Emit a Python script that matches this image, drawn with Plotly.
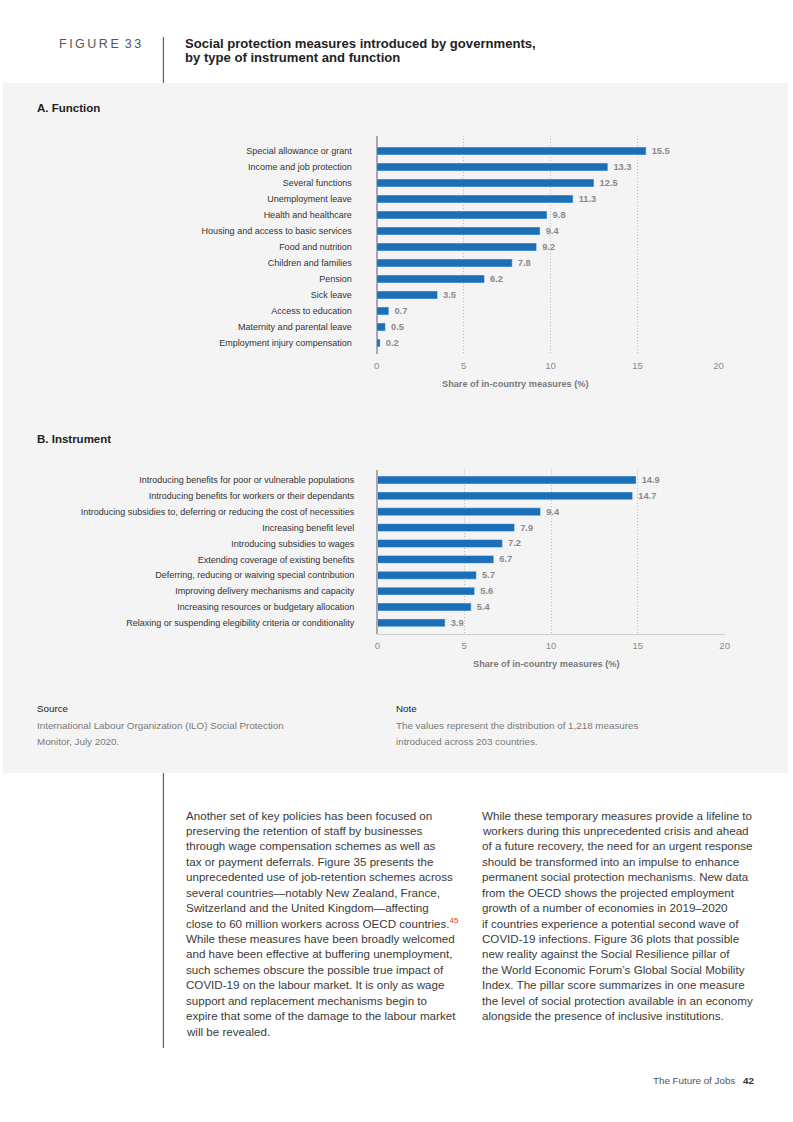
import plotly.graph_objects as go

# ---------------- data ----------------
function_categories = [
    "Special allowance or grant", "Income and job protection", "Several functions",
    "Unemployment leave", "Health and healthcare", "Housing and access to basic services",
    "Food and nutrition", "Children and families", "Pension", "Sick leave",
    "Access to education", "Maternity and parental leave", "Employment injury compensation",
]
function_values = [15.5, 13.3, 12.5, 11.3, 9.8, 9.4, 9.2, 7.8, 6.2, 3.5, 0.7, 0.5, 0.2]

instrument_categories = [
    "Introducing benefits for poor or vulnerable populations",
    "Introducing benefits for workers or their dependants",
    "Introducing subsidies to, deferring or reducing the cost of necessities",
    "Increasing benefit level",
    "Introducing subsidies to wages",
    "Extending coverage of existing benefits",
    "Deferring, reducing or waiving special contribution",
    "Improving delivery mechanisms and capacity",
    "Increasing resources or budgetary allocation",
    "Relaxing or suspending elegibility criteria or conditionality",
]
instrument_values = [14.9, 14.7, 9.4, 7.9, 7.2, 6.7, 5.7, 5.6, 5.4, 3.9]

x_ticks = [0, 5, 10, 15, 20]

# ---------------- helpers ----------------
W, H = 793, 1122
FONT = "Liberation Sans"
BLUE = "#1b6fb9"


def px(x):
    return x / W


def py(y):
    return 1 - y / H


fig = go.Figure()

fig.add_trace(go.Bar(
    x=function_values, y=list(range(len(function_categories))), orientation="h",
    marker_color=BLUE, width=0.5,
    text=[f"\u00a0{v:.1f}" for v in function_values], textposition="outside",
    textfont=dict(family=FONT, size=9.3, color="#8a8a8a", weight="bold"),
    cliponaxis=False, constraintext="none", xaxis="x", yaxis="y", showlegend=False,
))
fig.add_trace(go.Bar(
    x=instrument_values, y=list(range(len(instrument_categories))), orientation="h",
    marker_color=BLUE, width=0.5,
    text=[f"\u00a0{v:.1f}" for v in instrument_values], textposition="outside",
    textfont=dict(family=FONT, size=9.3, color="#8a8a8a", weight="bold"),
    cliponaxis=False, constraintext="none", xaxis="x2", yaxis="y2", showlegend=False,
))

xcommon = dict(
    showgrid=True, gridcolor="#bdbdbd", griddash="1px,2px", gridwidth=1,
    zeroline=True, zerolinecolor="#a8a8a8", zerolinewidth=1.5,
    ticks="outside", ticklen=3, tickcolor="rgba(0,0,0,0)",
    tickfont=dict(family=FONT, size=9.5, color="#8a8a8a"),
    fixedrange=True,
)
ycommon = dict(
    showgrid=False, zeroline=False, ticks="",
    tickfont=dict(family=FONT, size=9, color="#333333"),
    fixedrange=True,
)

# Chart A: the reference's right-hand gridline sits slightly inside 20
fig.update_layout(
    xaxis=dict(**xcommon, domain=[px(377.5), px(722.7)], range=[0, 19.66],
               tickvals=[0, 5, 10, 15, 19.66], ticktext=[str(t) for t in x_ticks],
               anchor="y"),
    yaxis=dict(**ycommon, domain=[py(354), py(136)], range=[12.69, -0.94],
               tickvals=list(range(len(function_categories))), ticktext=function_categories,
               ticklabelstandoff=24, anchor="x"),
    xaxis2=dict(**xcommon, domain=[px(378.2), px(729)], range=[0, 20],
                tickvals=x_ticks, ticktext=[str(t) for t in x_ticks],
                showline=True, linecolor="#cfcfcf", linewidth=1, anchor="y2"),
    yaxis2=dict(**ycommon, domain=[py(633.5), py(470)], range=[9.67, -0.63],
                tickvals=list(range(len(instrument_categories))), ticktext=instrument_categories,
                ticklabelstandoff=22, anchor="x2"),
)

shapes = [
    dict(type="rect", xref="paper", yref="paper", x0=0, x1=1, y0=py(773), y1=py(83),
         fillcolor="#f4f4f4", line_width=0, layer="below"),
    dict(type="line", xref="paper", yref="paper", x0=px(162), x1=px(162), y0=py(37), y1=py(83),
         line=dict(color="#444444", width=1)),
    dict(type="line", xref="paper", yref="paper", x0=px(162), x1=px(162), y0=py(773), y1=py(1048),
         line=dict(color="#444444", width=1)),
]

annotations = []


def txt(x, y, s, size=9, color="#333333", bold=False, anchor="left"):
    annotations.append(dict(
        xref="paper", yref="paper", x=px(x), y=py(y), text=s, showarrow=False,
        xanchor=anchor, yanchor="middle", align=anchor, borderpad=0, borderwidth=0,
        font=dict(family=FONT, size=size, color=color, weight="bold" if bold else "normal"),
    ))


# header
txt(57, 44, "\u2009".join("FIGURE") + "\u2009 " + "\u2009".join("33"), size=12.5, color="#555555")
txt(184, 43, "Social protection measures introduced by governments,", size=13.1, color="#222222", bold=True)
txt(184, 57.5, "by type of instrument and function", size=13.1, color="#222222", bold=True)

# section titles
txt(34, 108, "A. Function", size=11.5, color="#222222", bold=True)
txt(34, 439, "B. Instrument", size=11.5, color="#222222", bold=True)

# axis titles
txt(518, 384, "Share of in-country measures (%)", size=9.2, color="#7a7a7a", bold=True, anchor="center")
txt(549, 664, "Share of in-country measures (%)", size=9.2, color="#7a7a7a", bold=True, anchor="center")

# source / note
txt(34, 708, "Source", size=9.8, color="#222222")
txt(34, 725, "International Labour Organization (ILO) Social Protection", size=9.8, color="#7a7a7a")
txt(34, 741, "Monitor, July 2020.", size=9.8, color="#7a7a7a")
txt(397, 708, "Note", size=9.8, color="#222222")
txt(397, 725, "The values represent the distribution of 1,218 measures", size=9.8, color="#7a7a7a")
txt(397, 741, "introduced across 203 countries.", size=9.8, color="#7a7a7a")

col1 = [
    "Another set of key policies has been focused on",
    "preserving the retention of staff by businesses",
    "through wage compensation schemes as well as",
    "tax or payment deferrals. Figure 35 presents the",
    "unprecedented use of job-retention schemes across",
    "several countries\u2014notably New Zealand, France,",
    "Switzerland and the United Kingdom\u2014affecting",
    "close to 60 million workers across OECD countries.<sup><span style='color:#e2402a'>45</span></sup>",
    "While these measures have been broadly welcomed",
    "and have been effective at buffering unemployment,",
    "such schemes obscure the possible true impact of",
    "COVID-19 on the labour market. It is only as wage",
    "support and replacement mechanisms begin to",
    "expire that some of the damage to the labour market",
    "will be revealed.",
]
col2 = [
    "While these temporary measures provide a lifeline to",
    "workers during this unprecedented crisis and ahead",
    "of a future recovery, the need for an urgent response",
    "should be transformed into an impulse to enhance",
    "permanent social protection mechanisms. New data",
    "from the OECD shows the projected employment",
    "growth of a number of economies in 2019\u20132020",
    "if countries experience a potential second wave of",
    "COVID-19 infections. Figure 36 plots that possible",
    "new reality against the Social Resilience pillar of",
    "the World Economic Forum\u2019s Global Social Mobility",
    "Index. The pillar score summarizes in one measure",
    "the level of social protection available in an economy",
    "alongside the presence of inclusive institutions.",
]
for i, line in enumerate(col1):
    txt(185, 815 + i * 15.43, line, size=11.6, color="#3a3a3a")
for i, line in enumerate(col2):
    txt(484, 815 + i * 15.43, line, size=11.6, color="#3a3a3a")

# footer
txt(739, 1080, "The Future of Jobs", size=9.8, color="#555555", anchor="right")
txt(748, 1080, "42", size=9.8, color="#333333", bold=True)

fig.update_layout(
    width=W, height=H, margin=dict(l=0, r=0, t=0, b=0),
    paper_bgcolor="white", plot_bgcolor="rgba(0,0,0,0)",
    shapes=shapes, annotations=annotations, bargap=0.5,
    font=dict(family=FONT),
)

fig.write_html(
    "out.html",
    config={"displayModeBar": False, "responsive": False},
    post_script=(
        "document.documentElement.style.margin='0';"
        "document.documentElement.style.padding='0';"
        "document.documentElement.style.overflow='hidden';"
        "document.body.style.margin='0';"
        "document.body.style.padding='0';"
        "document.body.style.overflow='hidden';"
        "var gd=document.getElementById('{plot_id}');"
        "gd.parentElement.style.position='absolute';"
        "gd.parentElement.style.left='0px';"
        "gd.parentElement.style.top='0px';"
    ),
)
